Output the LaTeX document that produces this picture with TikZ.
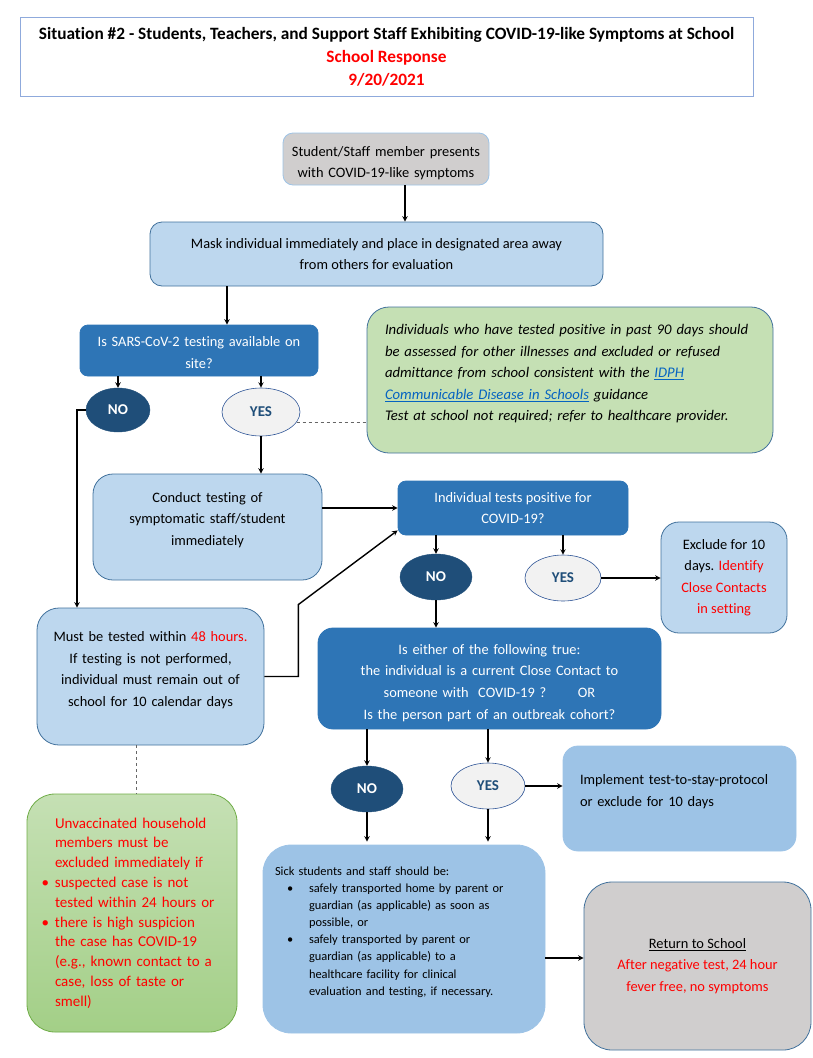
\documentclass[tikz,border=0pt]{standalone}
\usepackage{fontspec}
\setmainfont{Carlito}[Ligatures=NoCommon]
\usetikzlibrary{shapes.geometric}

\definecolor{boxfill}{HTML}{BDD7EE}
\definecolor{boxline}{HTML}{41719C}
\definecolor{qfill}{HTML}{2E75B6}
\definecolor{nofill}{HTML}{1F4E79}
\definecolor{yesfill}{HTML}{F2F2F2}
\definecolor{yesline}{HTML}{2F5597}
\definecolor{notefill}{HTML}{C5E0B4}
\definecolor{hhtop}{HTML}{C5E0B4}
\definecolor{hhbot}{HTML}{A3CF87}
\definecolor{hhline}{HTML}{70AD47}
\definecolor{midblue}{HTML}{9DC3E6}
\definecolor{grayfill}{HTML}{D0CECE}
\definecolor{titleline}{HTML}{8FAADC}
\definecolor{alertred}{HTML}{FF0000}
\definecolor{link}{HTML}{0563C1}

\newcommand{\redtxt}[1]{\textcolor{alertred}{#1}}
\newcommand{\sbul}{\hspace*{12pt}\makebox[22pt][l]{\textbullet}}
\newcommand{\sind}{\hspace*{34pt}}
\newcommand{\hbul}{\leavevmode\llap{\textbullet\hspace{6pt}}}
% pushes the text of a box up / down a little
\newcommand{\liftby}[1]{\\[#1]\mbox{}}
\newcommand{\dropby}[1]{\mbox{}\\[#1]}

\tikzset{
  bodyfont/.style={font=\fontsize{14.4}{21.5}\selectfont},
  blbox/.style={draw=boxline, fill=boxfill, rounded corners=#1, align=center,
    inner sep=0pt, line width=0.8pt, bodyfont},
  blbox/.default=15,
  qbox/.style={draw=qfill, fill=qfill, text=white, rounded corners=#1, align=center,
    inner sep=0pt, line width=0.8pt, bodyfont},
  qbox/.default=8,
  nonode/.style={ellipse, draw=nofill, fill=nofill, text=white, inner sep=0pt,
    font=\fontsize{15}{17}\selectfont\bfseries},
  yesnode/.style={ellipse, draw=yesline, fill=yesfill, text=nofill, inner sep=0pt,
    line width=0.6pt, font=\fontsize{15}{17}\selectfont\bfseries},
  link/.style={->, line width=1.4pt},
  dashlink/.style={dashed, draw=black!60, line width=0.9pt}
}

\begin{document}
\begin{tikzpicture}[>=stealth, x=1pt, y=-1pt]
\useasboundingbox (0,0) rectangle (813,1058);

\node[draw=titleline, line width=1pt, fill=white, minimum width=733, minimum height=79,
  inner sep=0pt, align=center, font=\fontsize{17.3}{23}\selectfont\bfseries]
  (title) at (386.5,56.5)
  {Situation \#2 - Students, Teachers, and Support Staff Exhibiting COVID-19-like Symptoms at School\\
   \redtxt{School Response}\\ \redtxt{9/20/2021}};

\node[blbox=10, draw=midblue, fill=grayfill, minimum width=206, minimum height=52, text width=202]
  (start) at (386,159) {\dropby{-3pt}Student/Staff member presents\\with COVID-19-like symptoms};
\node[blbox=12, minimum width=453, minimum height=64]
  (mask) at (376.5,254) {Mask individual immediately and place in designated area away\\from others for evaluation};
\node[qbox, minimum width=238, minimum height=51, text width=234]
  (q1) at (199,350.5) {\dropby{-7pt}Is SARS-CoV-2 testing available on\\site?};
\node[nonode, minimum width=64, minimum height=44] (no1) at (118,410) {NO};
\node[yesnode, minimum width=78, minimum height=48] (yes1) at (261,412) {YES};

\node[blbox=22, fill=notefill, minimum width=406, minimum height=146, inner xsep=3pt,
  text width=400, align=left, font=\fontsize{14.7}{21.5}\selectfont\itshape]
  (note) at (570,380)
  {\leftskip=15pt
   Individuals who have tested positive in past 90 days should\\
   be assessed for other illnesses and excluded or refused\\
   admittance from school consistent with the \textcolor{link}{\underline{IDPH}}\\
   \textcolor{link}{\underline{Communicable Disease in Schools}} guidance\\
   Test at school not required; refer to healthcare provider.\liftby{-7pt}\par};

\node[blbox=20, minimum width=229, minimum height=106, text width=225]
  (conduct) at (207.5,527) {Conduct testing of\\symptomatic staff/student\\immediately\liftby{-5pt}};
\node[qbox, minimum width=230, minimum height=54]
  (q2) at (513,508) {Individual tests positive for\\COVID-19?};
\node[nonode, minimum width=72, minimum height=46] (no2) at (436,577) {NO};
\node[yesnode, minimum width=76, minimum height=46] (yes2) at (563,578) {YES};
\node[blbox=18, minimum width=126, minimum height=111]
  (excl) at (724,577.5) {Exclude for 10\\days. \redtxt{Identify}\\\redtxt{Close Contacts}\\\redtxt{in setting}};

\node[blbox=22, minimum width=227, minimum height=137, text width=223]
  (test48) at (150.5,676.5) {Must be tested within \redtxt{48 hours.}\\If testing is not performed,\\individual must remain out of\\school for 10 calendar days\liftby{-6pt}};
\node[qbox=15, minimum width=343, minimum height=101, text width=339,
  font=\fontsize{14.4}{21.8}\selectfont]
  (q3) at (489.5,678.5) {\dropby{-3pt}Is either of the following true:\\
   the individual is a current Close Contact to\\
   someone with\ \ COVID-19 ?\hspace{2.2em}OR\\
   Is the person part of an outbreak cohort?};
\node[nonode, minimum width=72, minimum height=46] (no3) at (367,789) {NO};
\node[yesnode, minimum width=74, minimum height=46] (yes3) at (488,786) {YES};
\node[blbox=15, draw=midblue, fill=midblue, minimum width=233, minimum height=105,
  inner xsep=3pt, text width=227, align=left]
  (impl) at (679.5,798.5) {\leftskip=14pt
   Implement test-to-stay-protocol\\or exclude for 10 days\liftby{-5pt}\par};

\node[blbox=28, draw=midblue, fill=midblue, minimum width=282, minimum height=188,
  inner xsep=12pt, text width=258, align=left, font=\fontsize{12.4}{17.1}\selectfont]
  (sick) at (404,939)
  {Sick students and staff should be:\\
   \sbul safely transported home by parent or\\
   \sind guardian (as applicable) as soon as\\
   \sind possible, or\\
   \sbul safely transported by parent or\\
   \sind guardian (as applicable) to a\\
   \sind healthcare facility for clinical\\
   \sind evaluation and testing, if necessary.\liftby{-1pt}};
\node[blbox=28, fill=grayfill, minimum width=227, minimum height=168]
  (ret) at (697.5,966) {\underline{Return to School}\\\redtxt{After negative test, 24 hour}\\\redtxt{fever free, no symptoms}};

\node[blbox=28, draw=hhline, top color=hhtop, bottom color=hhbot, minimum width=210,
  minimum height=238, inner xsep=5pt, text width=200, align=left, text=alertred,
  font=\fontsize{15}{19.8}\selectfont]
  (hh) at (132,913)
  {\leftskip=23pt
   Unvaccinated household\\members must be\\excluded immediately if\\
   \hbul suspected case is not\\tested within 24 hours or\\
   \hbul there is high suspicion\\the case has COVID-19\\(e.g., known contact to a\\case, loss of taste or\\smell)\par};

% connectors
\draw[link] ([xshift=19]start.south) -- ([xshift=19]start.south |- mask.north);
\draw[link] ([xshift=-149.5]mask.south) -- ([xshift=-149.5]mask.south |- q1.north);
\draw[link] (q1.south -| no1) -- (no1.north);
\draw[link] (q1.south -| yes1) -- (yes1.north);
\draw[dashlink] (yes1.-16) -- (yes1.-16 -| note.west);
\draw[link] (no1.west) -| ([xshift=-73.5]test48.north);
\draw[link] (yes1.south) -- (yes1.south |- conduct.north);
\draw[link] (conduct.east |- q2.west) -- (q2.west);
\draw[link] (test48.east) -- ++(34,0) -- ++(0,-72) -- ([yshift=5]q2.south west);
\draw[link] (q2.south -| no2) -- (no2.north);
\draw[link] (q2.south -| yes2) -- (yes2.north);
\draw[link] (yes2.east) -- (yes2.east -| excl.west);
\draw[link] (no2.south) -- (no2.south |- q3.north);
\draw[link] (q3.south -| no3) -- (no3.north);
\draw[link] (q3.south -| yes3) -- (yes3.north);
\draw[link] (yes3.east) -- (yes3.east -| impl.west);
\draw[link] (no3.south) -- ([yshift=3]no3.south |- sick.north);
\draw[link] (yes3.south) -- ([yshift=3]yes3.south |- sick.north);
\draw[link] ([yshift=-19]sick.east) -- ([yshift=-19]sick.east -| ret.west);
\draw[dashlink] ([xshift=-14.5]test48.south) -- ([xshift=-14.5]test48.south |- hh.north);
\end{tikzpicture}
\end{document}
